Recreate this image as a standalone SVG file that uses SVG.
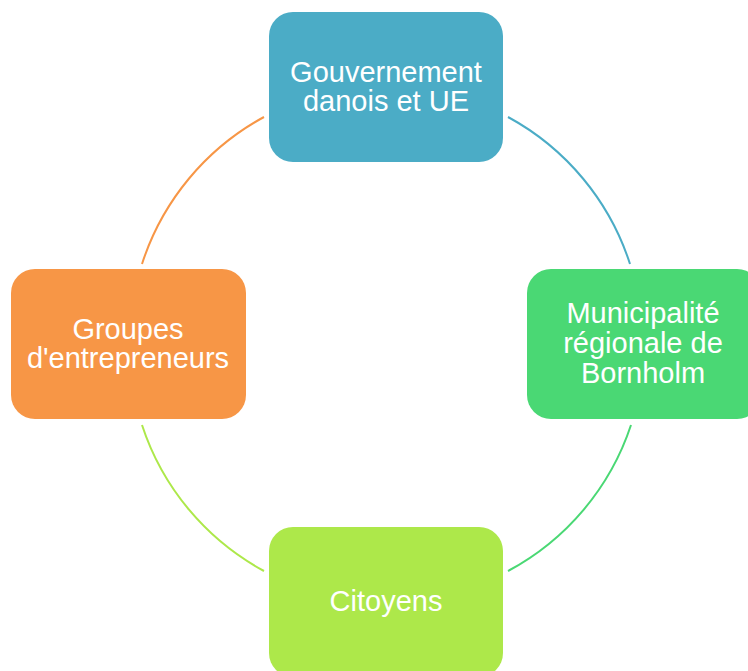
<svg xmlns="http://www.w3.org/2000/svg" width="748" height="671" viewBox="0 0 748 671">
<style>
.lbl{font-family:"Liberation Sans",Arial,sans-serif;font-size:29px;fill:#ffffff;text-anchor:middle}
.arc{fill:none;stroke-width:2}
</style>
<rect width="748" height="671" fill="#ffffff"/>
<g id="connectors">
<path class="arc" stroke="#4BACC6" d="M508,117 A257,257 0 0 1 630,264"/>
<path class="arc" stroke="#4AD874" d="M631,425 A257,257 0 0 1 508,571"/>
<path class="arc" stroke="#ADE84A" d="M264,571 A257,257 0 0 1 142,425"/>
<path class="arc" stroke="#F79646" d="M142,264 A257,257 0 0 1 264,117"/>
</g>
<g id="gouvernement">
<rect x="269" y="12" width="234" height="150" rx="24" fill="#4BACC6"/>
<text class="lbl" x="386" y="82">Gouvernement</text>
<text class="lbl" x="386" y="111">danois et UE</text>
</g>
<g id="municipalite">
<rect x="527" y="269" width="234" height="150" rx="24" fill="#4AD874"/>
<text class="lbl" x="643" y="323">Municipalité</text>
<text class="lbl" x="643" y="353">régionale de</text>
<text class="lbl" x="643" y="383">Bornholm</text>
</g>
<g id="citoyens">
<rect x="269" y="527" width="234" height="150" rx="24" fill="#ADE84A"/>
<text class="lbl" x="386" y="611">Citoyens</text>
</g>
<g id="groupes">
<rect x="11" y="269" width="235" height="150" rx="24" fill="#F79646"/>
<text class="lbl" x="128" y="339">Groupes</text>
<text class="lbl" x="128" y="368">d'entrepreneurs</text>
</g>
</svg>
